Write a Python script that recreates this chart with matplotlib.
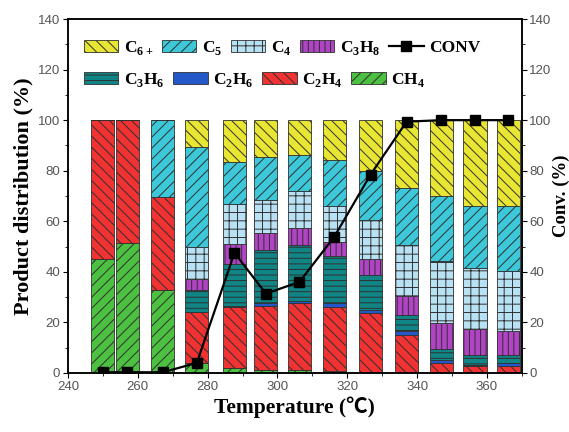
import numpy as np
import matplotlib
matplotlib.use("Agg")
import matplotlib.pyplot as plt
from matplotlib.patches import Patch
from matplotlib.lines import Line2D
from matplotlib.ticker import MultipleLocator

plt.rcParams["font.family"] = "Liberation Sans"
plt.rcParams["mathtext.fontset"] = "custom"
plt.rcParams["mathtext.rm"] = "Liberation Serif:bold"
plt.rcParams["mathtext.bf"] = "Liberation Serif:bold"
plt.rcParams["hatch.linewidth"] = 0.7
plt.rcParams["axes.linewidth"] = 1.1

temps = [250, 257, 267.2, 276.9, 287.7, 296.7, 306.3, 316.3, 326.7, 337, 347, 356.6, 366.1]

ch4  = [45.0, 51.5, 33.0, 4.0, 2.0, 1.3, 1.0, 0.7, 0.4, 0.0, 0.0, 0.0, 0.0]
c2h4 = [55.0, 48.5, 36.5, 20.0, 24.0, 25.2, 26.5, 25.5, 23.4, 15.2, 4.0, 2.6, 2.6]
c2h6 = [0.0, 0.0, 0.0, 0.3, 0.5, 1.0, 1.0, 1.3, 1.1, 1.6, 1.0, 0.7, 1.4]
c3h6 = [0.0, 0.0, 0.0, 8.5, 16.5, 21.0, 22.0, 18.6, 13.8, 6.0, 4.5, 4.0, 3.0]
c3h8 = [0.0, 0.0, 0.0, 4.5, 8.0, 7.0, 6.7, 5.8, 6.3, 7.6, 10.4, 9.9, 9.5]
c4   = [0.0, 0.0, 0.0, 12.5, 16.0, 13.0, 14.6, 14.1, 15.7, 20.3, 24.2, 24.5, 23.9]
c5   = [0.0, 0.0, 30.5, 39.5, 16.5, 17.0, 14.4, 18.1, 19.2, 22.6, 25.9, 24.5, 25.5]
c6   = [0.0, 0.0, 0.0, 10.7, 16.5, 14.5, 13.8, 15.9, 20.1, 26.7, 30.0, 33.8, 34.1]

conv = [0.3, 0.3, 0.3, 4.0, 47.5, 31.4, 36.0, 53.9, 78.5, 99.4, 100.0, 100.0, 100.0]

series = [
    (r"CH$_4$", ch4, "#4cc040", "///"),
    (r"C$_2$H$_4$", c2h4, "#f03232", "\\\\\\"),
    (r"C$_2$H$_6$", c2h6, "#2458c8", ""),
    (r"C$_3$H$_6$", c3h6, "#0f8585", "---"),
    (r"C$_3$H$_8$", c3h8, "#b044c4", "|||"),
    (r"C$_4$", c4, "#b8e2f4", "++"),
    (r"C$_5$", c5, "#3cc8d8", "///"),
    (r"C$_{6+}$", c6, "#e8e632", "\\\\\\"),
]

serif = ["Liberation Serif", "Noto Sans CJK SC"]
tick_color = "#555555"

fig = plt.figure(figsize=(5.69, 4.32), dpi=100)
ax = fig.add_axes([0.1195, 0.1366, 0.7975, 0.8194])

x = np.array(temps)
bottom = np.zeros(len(x))
handles = {}
for label, vals, color, hatch in series:
    v = np.array(vals)
    ax.bar(x, v, width=6.6, bottom=bottom, color=color, hatch=hatch,
           edgecolor="#303030", linewidth=0.6)
    bottom += v
    handles[label] = Patch(facecolor=color, hatch=hatch, edgecolor="#303030", linewidth=0.6)

ax.set_xlim(240, 370)
ax.set_ylim(0, 140)
ax.xaxis.set_major_locator(MultipleLocator(20))
ax.xaxis.set_minor_locator(MultipleLocator(10))
ax.yaxis.set_major_locator(MultipleLocator(20))
ax.yaxis.set_minor_locator(MultipleLocator(10))
ax.tick_params(which="both", direction="out", labelsize=9.5, labelcolor=tick_color, pad=2)
ax.tick_params(which="major", length=3.5)
ax.tick_params(which="minor", length=2.2)
ax.set_xlabel("Temperature (\u2103)", family=serif, fontweight="bold", fontsize=15.5, labelpad=3)
ax.set_ylabel("Product distribution (%)", family=serif, fontweight="bold", fontsize=16, labelpad=3)

ax2 = ax.twinx()
ax2.plot(x, conv, "-s", color="black", linewidth=1.6, markersize=6.5)
ax2.set_ylim(0, 140)
ax2.yaxis.set_major_locator(MultipleLocator(20))
ax2.yaxis.set_minor_locator(MultipleLocator(10))
ax2.tick_params(which="both", direction="out", labelsize=9.5, labelcolor=tick_color, pad=2)
ax2.tick_params(which="major", length=3.5)
ax2.tick_params(which="minor", length=2.2)
ax2.set_ylabel("Conv. (%)", family=serif, fontweight="bold", fontsize=13.5, labelpad=1)

conv_handle = Line2D([], [], color="black", marker="s", linewidth=1.6, markersize=6.5)
row1 = [r"C$_{6+}$", r"C$_5$", r"C$_4$", r"C$_3$H$_8$"]
row2 = [r"C$_3$H$_6$", r"C$_2$H$_6$", r"C$_2$H$_4$", r"CH$_4$"]

leg_kw = dict(frameon=False, fontsize=12.5, handlelength=2.0, handleheight=0.75,
              columnspacing=0.5, handletextpad=0.3, borderpad=0, borderaxespad=0,
              loc="center left", bbox_transform=fig.transFigure)
leg1 = ax2.legend([handles[k] for k in row1] + [conv_handle], row1 + ["CONV"],
                  ncol=5, bbox_to_anchor=(0.147, 0.889), **leg_kw)
ax2.add_artist(leg1)
leg2 = ax2.legend([handles[k] for k in row2], row2,
                  ncol=4, bbox_to_anchor=(0.147, 0.815), **leg_kw)
for lg in (leg1, leg2):
    for t in lg.get_texts():
        t.set_fontfamily("Liberation Serif")
        t.set_fontweight("bold")

fig.savefig("out.png", dpi=100)
